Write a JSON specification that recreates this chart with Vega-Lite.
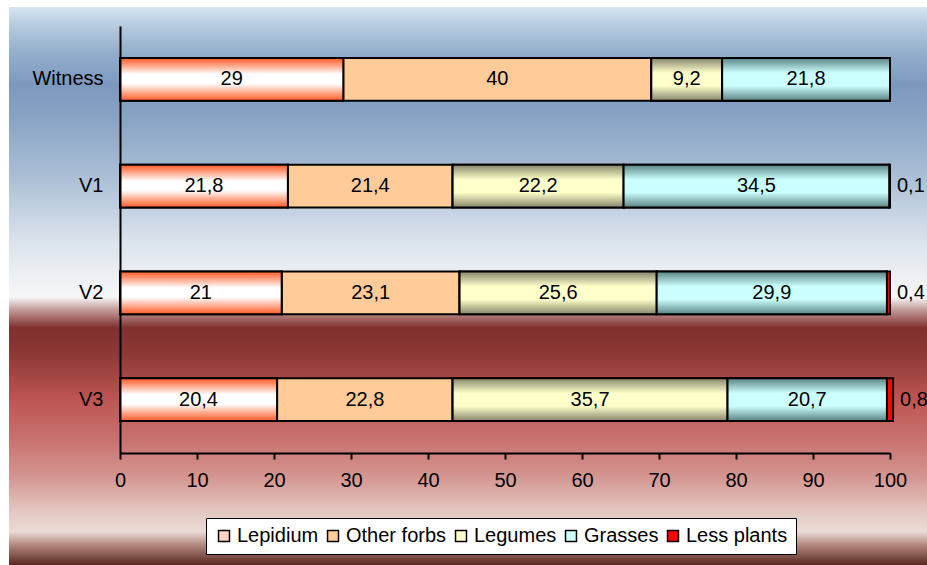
{
  "$schema": "https://vega.github.io/schema/vega-lite/v6.json",
  "width": 918,
  "height": 558,
  "autosize": {"type": "none"},
  "padding": {"left": 9, "top": 7, "right": 0, "bottom": 0},
  "background": "white",
  "config": {
    "view": {"stroke": null},
    "font": "Liberation Sans",
    "locale": {"number": {"decimal": ",", "thousands": ".", "grouping": [3], "currency": ["", " €"]}}
  },
  "data": {
    "values": [
      {"g": "Witness", "cat": "Lepidium", "k": 1, "v": 29},
      {"g": "Witness", "cat": "Other forbs", "k": 2, "v": 40},
      {"g": "Witness", "cat": "Legumes", "k": 3, "v": 9.2},
      {"g": "Witness", "cat": "Grasses", "k": 4, "v": 21.8},
      {"g": "V1", "cat": "Lepidium", "k": 1, "v": 21.8},
      {"g": "V1", "cat": "Other forbs", "k": 2, "v": 21.4},
      {"g": "V1", "cat": "Legumes", "k": 3, "v": 22.2},
      {"g": "V1", "cat": "Grasses", "k": 4, "v": 34.5},
      {"g": "V1", "cat": "Less plants", "k": 5, "v": 0.1},
      {"g": "V2", "cat": "Lepidium", "k": 1, "v": 21},
      {"g": "V2", "cat": "Other forbs", "k": 2, "v": 23.1},
      {"g": "V2", "cat": "Legumes", "k": 3, "v": 25.6},
      {"g": "V2", "cat": "Grasses", "k": 4, "v": 29.9},
      {"g": "V2", "cat": "Less plants", "k": 5, "v": 0.4},
      {"g": "V3", "cat": "Lepidium", "k": 1, "v": 20.4},
      {"g": "V3", "cat": "Other forbs", "k": 2, "v": 22.8},
      {"g": "V3", "cat": "Legumes", "k": 3, "v": 35.7},
      {"g": "V3", "cat": "Grasses", "k": 4, "v": 20.7},
      {"g": "V3", "cat": "Less plants", "k": 5, "v": 0.8}
    ]
  },
  "layer": [
    {
      "data": {"values": [{}]},
      "mark": {
        "type": "rect",
        "fill": {
          "gradient": "linear", "x1": 0, "y1": 0, "x2": 0, "y2": 1,
          "stops": [
            {"offset": 0, "color": "#d8e5ef"},
            {"offset": 0.03, "color": "#b8cde0"},
            {"offset": 0.08, "color": "#94b0cc"},
            {"offset": 0.14, "color": "#7c98bf"},
            {"offset": 0.2, "color": "#88a4c4"},
            {"offset": 0.3, "color": "#a9bdd4"},
            {"offset": 0.42, "color": "#dbe3ec"},
            {"offset": 0.52, "color": "#f7f7f8"},
            {"offset": 0.54, "color": "#c8a4a2"},
            {"offset": 0.575, "color": "#80302e"},
            {"offset": 0.62, "color": "#8c3834"},
            {"offset": 0.7, "color": "#bc5452"},
            {"offset": 0.77, "color": "#c8706c"},
            {"offset": 0.84, "color": "#d49490"},
            {"offset": 0.9, "color": "#e2c4be"},
            {"offset": 0.94, "color": "#ecdcd6"},
            {"offset": 0.965, "color": "#b0857c"},
            {"offset": 1, "color": "#5a281e"}
          ]
        }
      },
      "encoding": {}
    },
    {
      "transform": [
        {"stack": "v", "groupby": ["g"], "sort": [{"field": "k", "order": "ascending"}], "as": ["s0", "s1"]}
      ],
      "encoding": {
        "y": {
          "field": "g", "type": "nominal",
          "scale": {"domain": ["Witness", "V1", "V2", "V3"], "range": [19, 446], "paddingInner": 0.6, "paddingOuter": 0.3},
          "axis": {
            "title": null, "orient": "left", "offset": -111, "ticks": false, "zindex": 1,
            "domain": true, "domainColor": "black", "domainWidth": 2,
            "labelFontSize": 20, "labelColor": "black", "labelPadding": 17, "labelFont": "Liberation Sans"
          }
        },
        "x": {
          "field": "s0", "type": "quantitative",
          "scale": {"domain": [0, 100], "range": [111, 881], "nice": false, "zero": true},
          "axis": {
            "title": null, "orient": "bottom", "offset": -112, "grid": false, "zindex": 1,
            "values": [0, 10, 20, 30, 40, 50, 60, 70, 80, 90, 100],
            "domainColor": "black", "domainWidth": 2,
            "tickColor": "black", "tickWidth": 2, "tickSize": 6,
            "labelFontSize": 20, "labelColor": "black", "labelPadding": 11, "labelFont": "Liberation Sans",
            "labelFlush": false, "labelOverlap": false,
            "format": "d"
          }
        },
        "x2": {"field": "s1"}
      },
      "layer": [
        {
          "mark": {"type": "bar", "stroke": "black", "strokeWidth": 2},
          "encoding": {
            "color": {
              "field": "cat", "type": "nominal",
              "scale": {
                "domain": ["Lepidium", "Other forbs", "Legumes", "Grasses", "Less plants"],
                "range": ["#ffd4c4", "#ffcc99", "#ffffcc", "#ccffff", "#ff0000"]
              },
              "legend": {
                "orient": "none", "legendX": 197, "legendY": 511, "direction": "horizontal", "columns": 5,
                "title": null, "fillColor": "white", "strokeColor": "black", "padding": 8,
                "symbolType": "square", "symbolSize": 120, "symbolStrokeColor": "black", "symbolStrokeWidth": 1.5,
                "symbolOpacity": 1,
                "labelFontSize": 20, "labelColor": "black", "labelFont": "Liberation Sans", "labelOffset": 3,
                "columnPadding": 4
              }
            }
          }
        },
        {
          "transform": [{"filter": "datum.cat === 'Lepidium'"}],
          "mark": {
            "type": "bar", "stroke": "black", "strokeWidth": 2,
            "fill": {
              "gradient": "linear", "x1": 0, "y1": 0, "x2": 0, "y2": 1,
              "stops": [
                {"offset": 0, "color": "#ff5a28"},
                {"offset": 0.12, "color": "#ff8c66"},
                {"offset": 0.38, "color": "#ffffff"},
                {"offset": 0.6, "color": "#ffffff"},
                {"offset": 0.88, "color": "#ff8c66"},
                {"offset": 1, "color": "#ff5a28"}
              ]
            }
          }
        },
        {
          "transform": [{"filter": "datum.cat === 'Legumes'"}],
          "mark": {
            "type": "bar", "stroke": "black", "strokeWidth": 2,
            "fill": {
              "gradient": "linear", "x1": 0, "y1": 0, "x2": 0, "y2": 1,
              "stops": [
                {"offset": 0, "color": "#85856a"},
                {"offset": 0.35, "color": "#ffffcc"},
                {"offset": 0.65, "color": "#ffffcc"},
                {"offset": 1, "color": "#85856a"}
              ]
            }
          }
        },
        {
          "transform": [{"filter": "datum.cat === 'Grasses'"}],
          "mark": {
            "type": "bar", "stroke": "black", "strokeWidth": 2,
            "fill": {
              "gradient": "linear", "x1": 0, "y1": 0, "x2": 0, "y2": 1,
              "stops": [
                {"offset": 0, "color": "#5a8282"},
                {"offset": 0.35, "color": "#ccffff"},
                {"offset": 0.65, "color": "#ccffff"},
                {"offset": 1, "color": "#5a8282"}
              ]
            }
          }
        },
        {
          "transform": [
            {"filter": "datum.cat !== 'Less plants'"},
            {"calculate": "(datum.s0 + datum.s1) / 2", "as": "mid"}
          ],
          "mark": {"type": "text", "fontSize": 20, "color": "black", "font": "Liberation Sans", "align": "center", "baseline": "middle"},
          "encoding": {
            "x": {"field": "mid", "type": "quantitative"},
            "x2": null,
            "text": {"field": "v", "type": "quantitative", "format": "~g"}
          }
        },
        {
          "transform": [{"filter": "datum.cat === 'Less plants'"}],
          "mark": {"type": "text", "fontSize": 20, "color": "black", "font": "Liberation Sans", "align": "left", "baseline": "middle", "dx": 7},
          "encoding": {
            "x": {"field": "s1", "type": "quantitative"},
            "x2": null,
            "text": {"field": "v", "type": "quantitative", "format": "~g"}
          }
        }
      ]
    }
  ]
}
